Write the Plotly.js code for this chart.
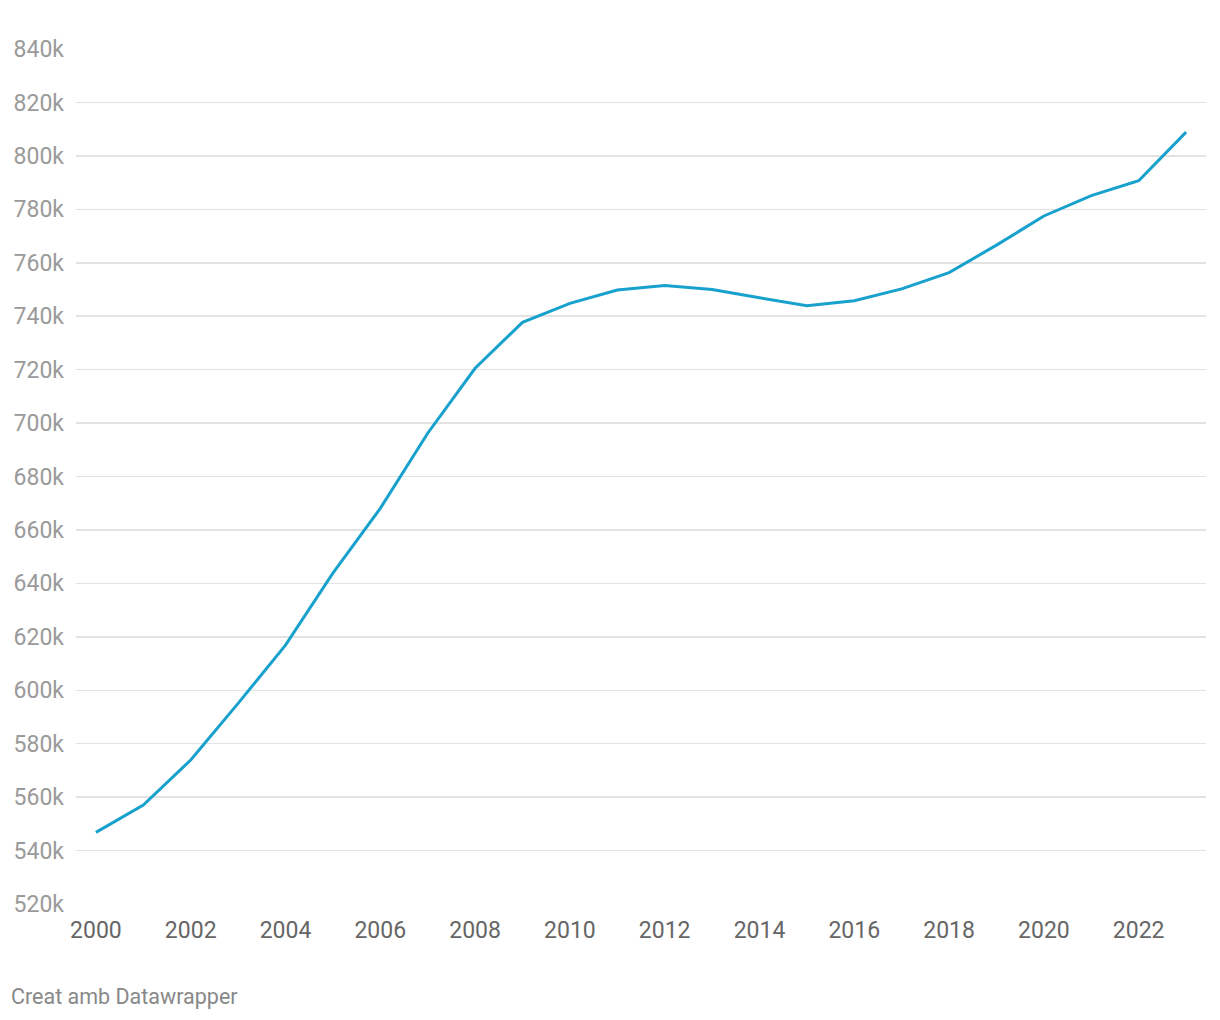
<!DOCTYPE html>
<html>
<head>
<meta charset="utf-8">
<script src="https://cdn.plot.ly/plotly-3.0.1.min.js"></script>
<style>
html,body{margin:0;padding:0;background:#fff;}
#chart{width:1220px;height:1020px;}
</style>
</head>
<body>
<div id="chart"></div>
<script>
const years = [2000,2001,2002,2003,2004,2005,2006,2007,2008,2009,2010,2011,2012,2013,2014,2015,2016,2017,2018,2019,2020,2021,2022,2023];
const values = [546800,557000,573900,595100,616900,643800,668100,696200,720500,737700,744800,749800,751500,750000,746900,743900,745800,750200,756300,766600,777500,785100,790700,808900];
const yTicks = [520000,540000,560000,580000,600000,620000,640000,660000,680000,700000,720000,740000,760000,780000,800000,820000,840000];
const yTickLabels = yTicks.map(v => (v/1000) + 'k');
const xTicks = [2000,2002,2004,2006,2008,2010,2012,2014,2016,2018,2020,2022];
const footer = 'Creat amb Datawrapper';

const trace = {
  x: years, y: values, type: 'scatter', mode: 'lines',
  line: {color: '#18a1cd', width: 3},
  hoverinfo: 'x+y'
};
const layout = {
  width: 1220, height: 1020,
  margin: {l: 76, r: 14, t: 49, b: 116},
  paper_bgcolor: '#fff', plot_bgcolor: '#fff',
  showlegend: false,
  font: {family: 'Roboto, sans-serif'},
  xaxis: {
    range: [1999.58, 2023.42],
    tickvals: xTicks, ticktext: xTicks.map(String),
    showgrid: false, zeroline: false, showline: false, ticks: '',
    tickfont: {size: 23, color: '#666666'},
    ticklabelstandoff: 10
  },
  yaxis: {
    range: [520000, 840000],
    tickvals: yTicks, ticktext: yTickLabels,
    showgrid: true, gridcolor: '#e3e3e3', gridwidth: 1.5,
    zeroline: false, showline: false, ticks: '',
    tickfont: {size: 23, color: '#9a9a9a'},
    ticklabelstandoff: 11
  },
  annotations: [{
    text: footer, xref: 'paper', yref: 'paper', x: -76/1130, y: -93/855,
    xanchor: 'left', yanchor: 'middle', showarrow: false,
    xshift: 9,
    font: {size: 21.5, color: '#888888', family: 'Roboto, sans-serif'}
  }]
};
Plotly.newPlot('chart', [trace], layout, {displayModeBar: false, staticPlot: true});
</script>
</body>
</html>
